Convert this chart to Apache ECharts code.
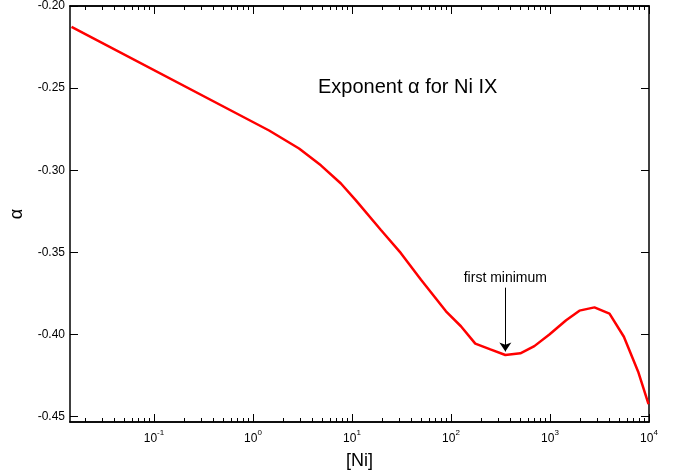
<!DOCTYPE html>
<html>
<head>
<meta charset="utf-8">
<script src="https://cdn.jsdelivr.net/npm/echarts@6/dist/echarts.min.js"></script>
<style>
  html, body { margin: 0; padding: 0; background: #fff; }
  #chart { width: 676px; height: 475px; }
</style>
</head>
<body>
<div id="chart"></div>
<script>
// [Ni] values and the exponent alpha
const nickel = [0.0147, 1.455, 2.92, 4.85, 7.73, 10.9, 19.6, 31.2, 49.8, 89, 126, 176, 250, 354, 502, 695, 986, 1455, 1983, 2812, 3990, 5575, 7830, 9890]
const alpha = [-0.2127, -0.2758, -0.2868, -0.2970, -0.3081, -0.3182, -0.3364, -0.3505, -0.3667, -0.3859, -0.3950, -0.4056, -0.4091, -0.4125, -0.4115, -0.4071, -0.4000, -0.3913, -0.3855, -0.3835, -0.3873, -0.4014, -0.4232, -0.4424]

// axis ticks: decades (as powers of ten) and alpha ticks
const decades = [-1, 0, 1, 2, 3, 4]
const mantissas = [2, 3, 4, 5, 6, 7, 8, 9]
const alphaTicks = [-0.45, -0.40, -0.35, -0.30, -0.25, -0.20]

const titleText = 'Exponent α for Ni IX'
const noteText = 'first minimum'
const noteAt = 354
const noteFrom = -0.3715
const noteTo = -0.4103

const xMin = Math.log10(0.01419)
const xMax = 4
const yMin = -0.4533
const yMax = -0.20
const font = '"Liberation Sans", Arial, Helvetica, sans-serif'

const minorTicks = []
for (let k = -2; k <= 3; k++) {
  mantissas.forEach(m => {
    const v = k + Math.log10(m)
    if (v > xMin && v < xMax) minorTicks.push(v)
  })
}

const black = { color: '#000', width: 1 }

function xAx(position, ticks, len, extra) {
  return Object.assign({
    type: 'value',
    position: position,
    min: xMin,
    max: xMax,
    axisLine: { show: true, onZero: false, lineStyle: { color: '#000', width: 1.5 } },
    axisTick: { show: true, inside: true, length: len, customValues: ticks, lineStyle: black },
    axisLabel: { show: false },
    splitLine: { show: false }
  }, extra || {})
}

function yAx(position, extra) {
  return Object.assign({
    type: 'value',
    position: position,
    min: yMin,
    max: yMax,
    axisLine: { show: true, onZero: false, lineStyle: { color: '#000', width: 1.5 } },
    axisTick: { show: true, inside: true, length: 8, customValues: alphaTicks, lineStyle: black },
    axisLabel: { show: false },
    splitLine: { show: false }
  }, extra || {})
}

const chart = echarts.init(document.getElementById('chart'))

const option = {
  animation: false,
  backgroundColor: '#fff',
  textStyle: { fontFamily: font },
  title: {
    text: titleText,
    left: 318,
    top: 77,
    padding: 0,
    textStyle: { fontSize: 20, fontWeight: 'normal', color: '#000', fontFamily: font }
  },
  grid: { left: 69, right: 27, top: 5, bottom: 52 },
  xAxis: [
    xAx('bottom', decades, 8, {
      axisLabel: {
        show: true,
        customValues: decades,
        margin: 7,
        color: '#000',
        formatter: v => '{b|10}{s|' + Math.round(v) + '}',
        rich: {
          b: { fontSize: 12, fontFamily: font, color: '#000', lineHeight: 16, verticalAlign: 'bottom' },
          s: { fontSize: 8, fontFamily: font, color: '#000', lineHeight: 16, verticalAlign: 'top' }
        }
      },
      name: '[Ni]',
      nameLocation: 'middle',
      nameGap: 30,
      nameTextStyle: { fontSize: 18, color: '#000', fontFamily: font }
    }),
    xAx('bottom', minorTicks, 4),
    xAx('top', decades, 8),
    xAx('top', minorTicks, 4)
  ],
  yAxis: [
    yAx('left', {
      axisLabel: {
        show: true,
        customValues: alphaTicks,
        margin: 5,
        color: '#000',
        fontSize: 12,
        fontFamily: font,
        formatter: v => v.toFixed(2)
      },
      name: 'α',
      nameLocation: 'middle',
      nameGap: 44,
      nameTextStyle: { fontSize: 18, color: '#000', fontFamily: font }
    }),
    yAx('right')
  ],
  series: [
    {
      type: 'line',
      xAxisIndex: 0,
      yAxisIndex: 0,
      data: nickel.map((n, i) => [Math.log10(n), alpha[i]]),
      showSymbol: false,
      symbol: 'none',
      lineStyle: { color: '#ff0000', width: 2.5 },
      silent: true,
      markLine: {
        silent: true,
        symbol: ['none', 'arrow'],
        symbolSize: 9,
        lineStyle: { color: '#000', width: 1, type: 'solid' },
        label: {
          show: true,
          position: 'start',
          distance: 3,
          formatter: noteText,
          color: '#000',
          fontSize: 14,
          fontFamily: font
        },
        data: [[
          { coord: [Math.log10(noteAt), noteFrom] },
          { coord: [Math.log10(noteAt), noteTo] }
        ]]
      }
    }
  ]
}

chart.setOption(option)
</script>
</body>
</html>
